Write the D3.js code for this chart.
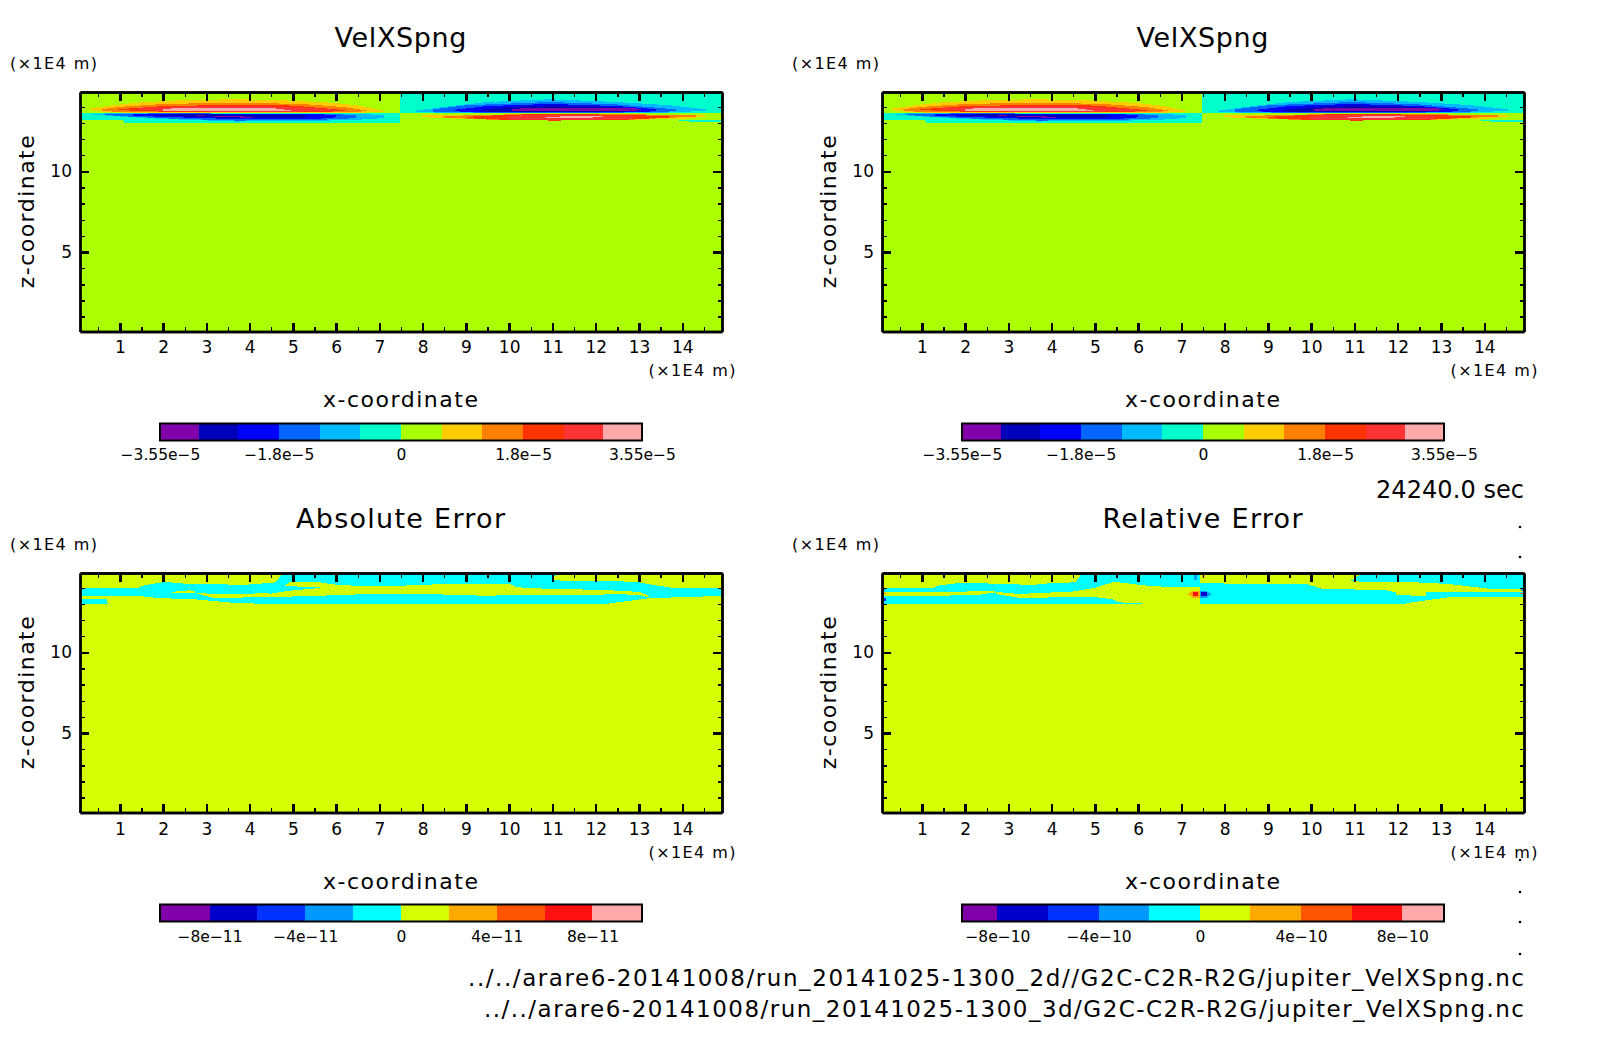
<!DOCTYPE html>
<html><head><meta charset="utf-8">
<script src="https://cdn.jsdelivr.net/npm/d3@7/dist/d3.min.js"></script>
<style>
html,body{margin:0;background:#fff}
svg{display:block}
text{font-family:"DejaVu Sans";fill:#000;font-weight:400}
</style></head><body>
<svg id="c" width="1604" height="1054"></svg>
<script>
// ---------- tick values ----------
const xMajor = [1,2,3,4,5,6,7,8,9,10,11,12,13,14];
const xMinor = [0.5,1.5,2.5,3.5,4.5,5.5,6.5,7.5,8.5,9.5,10.5,11.5,12.5,13.5,14.5];
const zMajor = [5,10];
const zMinor = [1,2,3,4,6,7,8,9,11,12,13,14];
const domainX = [0.078,14.92];
const domainZ = [0.08,14.92];

// ---------- colour levels ----------
const velColors = ["#8000aa","#0000bb","#0000ff","#0066ff","#00bbff","#00ffcc","#aaff00","#ffcc00","#ff8000","#ff3300","#ff3333","#ffaaaa"];
const velLevels = [-3.55,-2.98,-2.40,-1.79,-1.19,-0.60,0,0.60,1.19,1.79,2.40,2.98,3.55];
const velTicks = [-3.55,-1.8,0,1.8,3.55];
const velLabels = ["−3.55e−5","−1.8e−5","0","1.8e−5","3.55e−5"];
const errColors = ["#8000aa","#0000cc","#0033ff","#0099ff","#00ffff","#d4ff00","#ffaa00","#ff5500","#ff1111","#ffaaaa"];
const absLevels = [-10.07,-8,-6,-4,-2,0,2,4,6,8,10.07];
const absTicks = [-8,-4,0,4,8];
const absLabels = ["−8e−11","−4e−11","0","4e−11","8e−11"];
const relLevels = [-9.4,-8,-6,-4,-2,0,2,4,6,8,9.65];
const relTicks = [-8,-4,0,4,8];
const relLabels = ["−8e−10","−4e−10","0","4e−10","8e−10"];

// ---------- VelXSpng contour bands: [x, zLow, zHigh] ----------
const velTealWest = [[0.078,13.19,13.64],[1.08,13.19,13.64],[1.1,12.99,13.64],[7.47,12.99,13.62]];
const velTealEast = [[7.47,13.6,14.92],[14.92,13.6,14.92]];
const velTealWedge = [[13.93,13.13,13.16],[14.3,13.07,13.2],[14.92,13.07,13.2]];
const wYellow = [[.31,13.8,13.9],[.7,13.66,14.05],[1.38,13.64,14.26],[2.5,13.64,14.42],[3.68,13.64,14.47],[4.84,13.64,14.40],[5.99,13.64,14.24],[6.6,13.64,14.05],[7.1,13.68,13.75]];
const wOrange = [[.58,13.75,13.85],[1.0,13.68,14.0],[2,13.66,14.18],[3.68,13.66,14.26],[5.2,13.66,14.18],[6.2,13.68,13.98],[6.68,13.72,13.78]];
const wRedOrange = [[.96,13.8,13.85],[2,13.7,14.05],[3.68,13.68,14.12],[5,13.68,14.08],[6.2,13.72,13.8]];
const wRed = [[1.42,13.8,13.9],[2.5,13.72,14.03],[3.68,13.7,14.06],[5,13.7,14.0],[5.99,13.75,13.82]];
const wPink = [[2,13.76,13.88],[2.5,13.72,13.93],[4.5,13.72,13.93],[4.95,13.73,13.78]];
const wSky = [[.385,13.52,13.58],[1,13.4,13.6],[2,13.25,13.6],[3.68,13.09,13.58],[5.5,13.13,13.58],[6.45,13.19,13.56],[7.1,13.3,13.5]];
const wAzure = [[.65,13.5,13.56],[1.3,13.38,13.58],[2.2,13.27,13.6],[3.68,13.15,13.58],[5.5,13.18,13.58],[6.45,13.3,13.5]];
const wBlue = [[1.31,13.45,13.56],[2.2,13.36,13.58],[3.68,13.24,13.56],[5.5,13.24,13.56],[5.99,13.35,13.48]];
const wNavy = [[1.84,13.46,13.52],[2.76,13.38,13.54],[3.68,13.29,13.52],[5,13.29,13.5],[5.37,13.36,13.45]];
const wPurple = [[2.76,13.44,13.47],[3.68,13.36,13.44],[4.07,13.28,13.36]];
const eSky = [[7.84,13.7,13.76],[8.5,13.62,14.0],[9.5,13.62,14.3],[10.94,13.62,14.47],[12.5,13.62,14.3],[13.7,13.65,14.1],[14.54,13.75,13.85]];
const eAzure = [[8.25,13.7,13.85],[9,13.65,14.1],[10.94,13.64,14.3],[12.5,13.64,14.15],[13.85,13.72,13.85]];
const eBlue = [[8.75,13.72,13.82],[9.5,13.66,14.05],[10.94,13.66,14.18],[12.5,13.66,14.05],[13.39,13.72,13.85]];
const eNavy = [[9.33,13.72,13.82],[10,13.68,14.0],[10.94,13.68,14.10],[12.5,13.68,14.0],[13.01,13.75,13.85]];
const ePurple = [[10.02,13.78,13.82],[10.4,13.73,13.95],[12.8,13.73,13.95],[13.05,13.8,13.85]];
const eYellow = [[7.98,13.36,13.48],[9,13.23,13.5],[10.94,13.2,13.52],[12.5,13.18,13.52],[14,13.25,13.52],[14.54,13.4,13.46]];
const eOrange = [[8.48,13.34,13.42],[9.5,13.21,13.52],[10.94,13.18,13.54],[12.5,13.16,13.54],[14.31,13.4,13.5]];
const eRedOrange = [[9.02,13.3,13.38],[10,13.19,13.52],[11,13.15,13.54],[12.5,13.18,13.52],[13.7,13.34,13.42]];
const eRed = [[9.94,13.22,13.44],[11,13.17,13.52],[12.86,13.24,13.42]];
const ePink = [[10.86,13.3,13.36],[11.3,13.28,13.42],[12.17,13.36,13.44]];

// ---------- Absolute Error bands ----------
const absBand = [[0.078,13.0,14.92],[14.92,13.0,14.92]];
const absLimeTopW = [[.078,13.97,14.92],[1.38,13.97,14.92],[1.57,14.16,14.92],[1.84,14.28,14.92],[2.07,14.38,14.92],[2.3,14.3,14.92],[2.61,14.24,14.92],[3.07,14.24,14.92],[3.84,14.18,14.92],[4.45,14.3,14.92],[4.6,14.34,14.92],[4.76,14.9,14.92]];
const absLimeTopE = [[10.98,14.55,14.65],[11.24,14.42,14.92],[12.47,14.42,14.92],[13.01,14.34,14.92],[13.24,14.22,14.92],[13.78,14.0,14.92],[14.92,13.97,14.92]];
const absLimeMid = [[2.73,13.69,13.71],[3.15,13.38,13.62],[4.45,13.42,13.66],[4.6,13.44,13.7],[4.91,13.46,14.34],[5.63,13.5,14.34],[5.91,13.55,14.22],[6.6,13.6,14.1],[7.1,13.62,14.1],[7.56,13.62,14.14],[8.14,13.62,14.2],[8.63,13.57,14.24],[9.33,13.52,14.24],[10.02,13.53,14.24],[10.17,13.54,14.04],[10.94,13.55,13.93],[11.86,13.55,13.89],[12.47,13.62,13.83],[13.0,13.55,13.75],[13.24,13.4,13.5]];
const absLimeLowW = [[.078,13.28,13.5],[.7,13.28,13.5],[.72,13.0,13.5],[1.38,13.0,13.52],[1.9,13.0,13.36],[2.7,13.0,13.3],[3.6,13.0,13.08],[4.2,13.0,13.02]];
const absLimeLowE = [[12.3,13.0,13.03],[13.24,13.0,13.36],[14.92,13.0,13.5]];
const absLimeBlob = [[2.2,13.66,13.75],[2.6,13.66,13.85],[2.73,13.7,13.8]];
const absWedge = [[4.45,13.62,14.18],[4.91,13.82,14.1],[5.63,13.99,14.03]];

// ---------- Relative Error bands ----------
const relBand = [[0.078,13.0,14.92],[14.92,13.0,14.92]];
const relLimeTopW = [[.078,13.97,14.92],[1.25,13.97,14.92],[1.37,14.14,14.92],[1.87,14.3,14.92],[2.71,14.26,14.92],[3.55,14.18,14.92],[4,14.3,14.92],[4.55,14.34,14.92],[4.7,14.9,14.92]];
const relLimeStripW = [[.078,13.52,13.77],[1.3,13.5,13.77],[2.0,13.55,13.72],[2.5,13.6,13.7]];
const relLimeInner = [[2.05,13.7,13.78],[2.7,13.7,13.83]];
const relLimeMidW = [[2.71,13.62,13.75],[3.25,13.38,13.62],[4.48,13.42,13.77],[5.0,13.42,14.0],[5.4,13.3,14.34],[5.55,13.1,14.34],[6.32,13.0,14.1],[7.0,13.0,14.04],[7.43,13.0,14.04]];
const relLimeTopE = [[7.43,14.3,14.92],[8.5,14.24,14.92],[9.88,14.24,14.92],[10.27,13.93,14.92],[10.88,13.93,14.92],[10.92,14.45,14.8],[11.15,14.85,14.9]];
const relLimeStrandE = [[10.27,13.93,14.2],[10.92,13.9,14.45],[11.26,13.89,14.34],[11.65,13.89,14.34],[11.96,13.73,14.34],[12.42,13.73,14.34],[13.18,13.73,14.24],[14.26,13.75,13.9],[14.92,13.75,13.93]];
const relLimePatchE = [[11.96,13.55,13.73],[12.65,13.5,13.73]];
const relLimeLowE = [[12.2,13.0,13.05],[13.18,13.0,13.42],[14.92,13.0,13.45]];
const relSpotA = [[7.15,13.6,13.64],[7.25,13.4,13.8],[7.43,13.4,13.8]];
const relSpotB = [[7.26,13.52,13.73],[7.39,13.52,13.73]];
const relSpotC = [[7.43,13.4,13.8],[7.58,13.4,13.8],[7.7,13.6,13.64]];
const relSpotD = [[7.46,13.48,13.73],[7.58,13.48,13.73]];
const relSpotE = [[7.29,14.5,14.92],[7.37,14.5,14.92]];
const relSpotF = [[7.48,14.6,14.92],[7.55,14.6,14.92]];
const relEdge1 = [[.078,14.8,14.92],[.18,14.8,14.92]];
const relEdge2 = [[.078,13.8,13.9],[.14,13.8,13.9]];
const relEdge3 = [[.078,13.6,13.7],[.18,13.6,13.7]];
const relEdge4 = [[.078,13.2,13.4],[.18,13.2,13.4]];
const relEdge5 = [[14.82,13.6,13.7],[14.92,13.6,13.7]];
const relEdge6 = [[14.85,13.8,13.9],[14.92,13.8,13.9]];

const velLayers = [
 ["#00ffcc",velTealWest],["#00ffcc",velTealEast],["#00ffcc",velTealWedge],
 ["#ffcc00",wYellow],["#ff8000",wOrange],["#ff3300",wRedOrange],["#ff3333",wRed],["#ffaaaa",wPink],
 ["#00bbff",wSky],["#0066ff",wAzure],["#0000ff",wBlue],["#0000bb",wNavy],["#8000aa",wPurple],
 ["#00bbff",eSky],["#0066ff",eAzure],["#0000ff",eBlue],["#0000bb",eNavy],["#8000aa",ePurple],
 ["#ffcc00",eYellow],["#ff8000",eOrange],["#ff3300",eRedOrange],["#ff3333",eRed],["#ffaaaa",ePink]
];
const LIME="#d4ff00", CY="#00ffff";
const absLayers = [[CY,absBand],[LIME,absLimeTopW],[LIME,absLimeTopE],[LIME,absLimeMid],[LIME,absLimeLowW],[LIME,absLimeLowE],[LIME,absLimeBlob],[CY,absWedge]];
const relLayers = [[CY,relBand],[LIME,relLimeTopW],[LIME,relLimeStripW],[LIME,relLimeInner],[LIME,relLimeMidW],[LIME,relLimeTopE],[LIME,relLimeStrandE],[LIME,relLimePatchE],[LIME,relLimeLowE],
 ["#ffaa00",relSpotA],["#ff1111",relSpotB],["#0099ff",relSpotC],["#0000cc",relSpotD],["#0099ff",relSpotE],["#ffaa00",relSpotF],
 ["#ffaa00",relEdge1],["#0099ff",relEdge2],["#ff5500",relEdge3],["#0033ff",relEdge4],["#ff5500",relEdge5],["#0099ff",relEdge6]];

const fileLines = ["../../arare6-20141008/run_20141025-1300_2d//G2C-C2R-R2G/jupiter_VelXSpng.nc","../../arare6-20141008/run_20141025-1300_3d/G2C-C2R-R2G/jupiter_VelXSpng.nc"];

const panels = [
 {left:80, top:92, unitX:10,  dy:-1, title:"VelXSpng", tw:132, bg:"#aaff00", layers:velLayers, colors:velColors, levels:velLevels, ticks:velTicks, labels:velLabels},
 {left:882,top:92, unitX:792, dy:-1, title:"VelXSpng", tw:132, bg:"#aaff00", layers:velLayers, colors:velColors, levels:velLevels, ticks:velTicks, labels:velLabels},
 {left:80, top:573,unitX:10,  dy:0,  title:"Absolute Error", tw:209, bg:LIME, layers:absLayers, colors:errColors, levels:absLevels, ticks:absTicks, labels:absLabels},
 {left:882,top:573,unitX:792, dy:0,  title:"Relative Error", tw:200, bg:LIME, layers:relLayers, colors:errColors, levels:relLevels, ticks:relTicks, labels:relLabels}
];

const W=642,H=239.5;
const svg=d3.select("#c");
const x=d3.scaleLinear().domain(domainX).range([0,W]);
const z=d3.scaleLinear().domain(domainZ).range([H,0]);
const area=d3.area().x(d=>x(d[0])).y0(d=>z(d[1])).y1(d=>z(d[2]));

function label(g,txt,px,py,size,anchor,len){
  const t=g.append("text").attr("x",px).attr("y",py).attr("font-size",size).attr("text-anchor",anchor).text(txt);
  if(len) t.attr("textLength",len).attr("lengthAdjust","spacing");
  return t;
}
function styleAxis(a,w){
  a.select(".domain").attr("stroke","#000").attr("stroke-width",2.4);
  a.selectAll("line").attr("stroke","#000").attr("stroke-width",w).attr("shape-rendering","crispEdges");
  a.selectAll("text").attr("font-size",17).attr("font-family",'"DejaVu Sans"').attr("font-weight",400);
}

panels.forEach(p=>{
  const g=svg.append("g").attr("transform",`translate(${p.left},${p.top})`);
  g.append("rect").attr("width",W).attr("height",H).attr("fill",p.bg);
  g.selectAll("path.band").data(p.layers).join("path").attr("class","band")
    .attr("fill",d=>d[0]).attr("shape-rendering","crispEdges").attr("d",d=>area(d[1]));

  const mk=(axisFn,scale,maj,min,tx,ty,fmt,pad)=>{
    const ag=g.append("g").attr("transform",`translate(${tx},${ty})`);
    const a1=ag.append("g").call(axisFn(scale).tickValues(min).tickFormat("").tickSizeInner(-4.5).tickSizeOuter(0));
    styleAxis(a1,1.4);
    const a2=ag.append("g").call(axisFn(scale).tickValues(maj).tickFormat(fmt).tickSizeInner(-9).tickSizeOuter(0).tickPadding(pad));
    styleAxis(a2,2.4);
  };
  mk(d3.axisBottom,x,xMajor,xMinor,0,H,d3.format("d"),10+p.dy);
  mk(d3.axisTop,x,xMajor,xMinor,0,0,"",0);
  mk(d3.axisLeft,z,zMajor,zMinor,0,0,d3.format("d"),8);
  mk(d3.axisRight,z,zMajor,zMinor,W,0,"",0);

  label(g,p.title,W/2-0.5,-45.5,27,"middle",p.tw);
  label(svg,"(×1E4 m)",p.unitX,p.top-23,16,"start",87);
  label(g,"(×1E4 m)",W-73.5,H+45+p.dy,16,"start",87);
  label(g,"x-coordinate",W/2-0.5,H+76+p.dy,22,"middle",155);
  g.append("text").attr("transform",`translate(-46,${H/2})rotate(-90)`).attr("text-anchor","middle")
    .attr("font-size",22).attr("textLength",153).attr("lengthAdjust","spacing").text("z-coordinate");

  // colour bar
  const bx=80, bw=482, by=H+92, bh=17;
  const s=d3.scaleLinear().domain([p.levels[0],p.levels[p.levels.length-1]]).range([bx,bx+bw]);
  const pairs=p.colors.map((c,i)=>({c,a:p.levels[i],b:p.levels[i+1]}));
  g.selectAll("rect.cb").data(pairs).join("rect").attr("class","cb")
    .attr("x",d=>s(d.a)).attr("width",d=>s(d.b)-s(d.a)).attr("y",by).attr("height",bh).attr("fill",d=>d.c).attr("shape-rendering","crispEdges");
  g.append("rect").attr("x",bx).attr("y",by).attr("width",bw).attr("height",bh).attr("fill","none").attr("stroke","#000").attr("stroke-width",2);
  const cb=g.append("g").attr("transform",`translate(0,${by+bh})`)
    .call(d3.axisBottom(s).tickValues(p.ticks).tickFormat((d,i)=>p.labels[i]).tickSize(0).tickPadding(9+p.dy));
  cb.select(".domain").remove();
  cb.selectAll("text").attr("font-size",15.5).attr("font-family",'"DejaVu Sans"').attr("font-weight",400);
});

label(svg,"24240.0 sec",1524,498,24,"end",148);
label(svg,fileLines[0],1524,986,23,"end",1056);
label(svg,fileLines[1],1524,1017,23,"end",1040);
const dotY = [527,557,860,892,922,954];
svg.selectAll("circle.dot").data(dotY).join("circle").attr("class","dot").attr("cx",1520).attr("cy",d=>d).attr("r",1.3).attr("fill","#000");
</script>
</body></html>
